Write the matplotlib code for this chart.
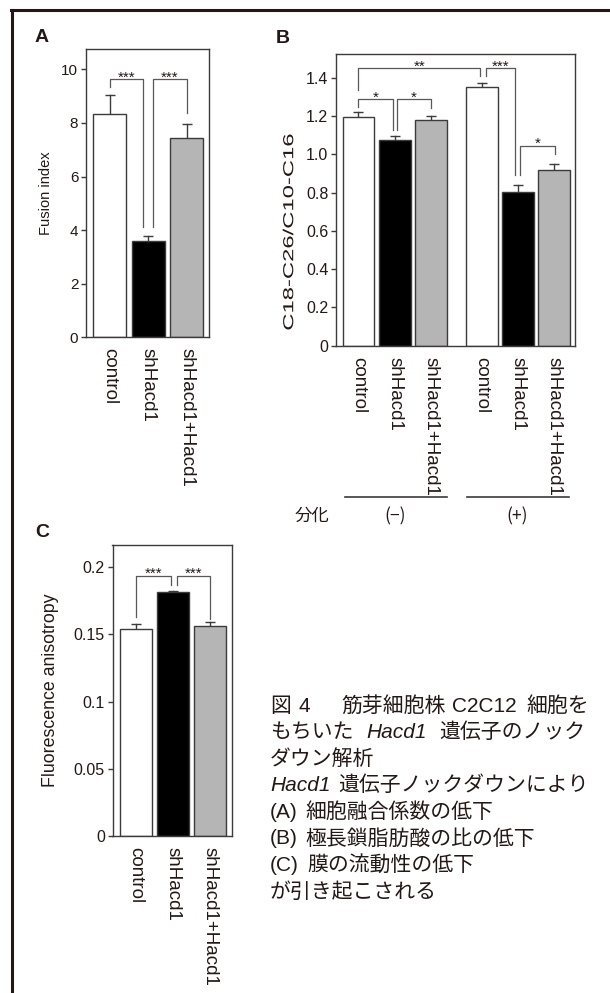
import matplotlib
matplotlib.use("Agg")
import matplotlib.pyplot as plt
import matplotlib.transforms as mtransforms
from matplotlib.lines import Line2D
from matplotlib.textpath import TextPath
from matplotlib.patches import PathPatch
from matplotlib.font_manager import FontProperties

plt.rcParams['font.family'] = ['Liberation Sans', 'DejaVu Sans']

W, H = 610, 993
fig = plt.figure(figsize=(W / 100, H / 100), dpi=100)

# ---- data ----
groups = ["control", "shHacd1", "shHacd1+Hacd1"]

# A: fusion index
fusion_mean = [8.33, 3.59, 7.44]
fusion_top = [9.05, 3.79, 7.97]
fusion_sig = [(0, 0.855, 9.63, 9.33, 4.13, "***"),
              (1.13, 2, 9.63, 4.13, 8.36, "***")]

# B: C18-C26/C10-C16 ratio, differentiation (-) then (+)
ratio_mean = [1.196, 1.073, 1.181, 1.352, 0.801, 0.916]
ratio_top = [1.223, 1.096, 1.200, 1.371, 0.840, 0.948]
ratio_pos = [0, 1, 2, 3.4, 4.4, 5.4]
ratio_sig = [(0, 3.36, 1.449, 1.336, 1.409, "**"),
             (3.51, 4.32, 1.449, 1.409, 0.892, "***"),
             (0, 0.945, 1.287, 1.249, 1.127, "*"),
             (1.06, 1.99, 1.287, 1.127, 1.240, "*"),
             (4.46, 5.43, 1.045, 0.892, 1.002, "*")]
diff_title = "分化"
diff_groups = ["(−)", "(+)"]

# C: fluorescence anisotropy
aniso_mean = [0.1539, 0.1812, 0.1564]
aniso_top = [0.1580, 0.1823, 0.1589]
aniso_sig = [(0, 0.94, 0.1933, 0.1626, 0.1866, "***"),
             (1.10, 2.0, 0.1933, 0.1866, 0.1617, "***")]

caption = [
    [("図", 'j'), 8, ("4", 'l'), 31, ("筋芽細胞株", 'j'), 6, ("C2C12", 'l'), 10, ("細胞を", 'j')],
    [("もちいた", 'j'), 13, ("Hacd1", 'i'), 12, ("遺伝子のノック", 'j')],
    [("ダウン解析", 'j')],
    [("Hacd1", 'i'), 8, ("遺伝子ノックダウンにより", 'j')],
    [("(A)", 'l'), 8, ("細胞融合係数の低下", 'j')],
    [("(B)", 'l'), 8, ("極長鎖脂肪酸の比の低下", 'j')],
    [("(C)", 'l'), 8, ("膜の流動性の低下", 'j')],
    [("が引き起こされる", 'j')],
]

fill = ["white", "black", "#b5b5b6"]
edge = "#3e3a39"
brk = "#595757"
ink = "#231815"
cjk = ['Noto Sans CJK JP', 'DejaVu Sans']


def px_axes(l, r, t, b):
    return fig.add_axes([l / W, 1 - b / H, (r - l) / W, (b - t) / H])


def style_axes(ax, ysize):
    for s in ax.spines.values():
        s.set_color(edge)
        s.set_linewidth(1.0)
    ax.tick_params(axis='y', direction='out', length=3.5, width=1, color=edge,
                   labelsize=ysize, pad=2, colors=ink)
    ax.tick_params(axis='x', length=0, pad=8, labelsize=13.5, colors=ink)


def draw_bars(ax, pos, mean, top, colors, width):
    ax.bar(pos, mean, width=width, color=colors, edgecolor=edge, linewidth=1.0, zorder=2)
    for x, m, t in zip(pos, mean, top):
        ax.plot([x, x], [m, t], color=edge, lw=1.0, zorder=1)
        ax.plot([x], [t], marker='_', markersize=7, mew=1.0, color=edge, zorder=1)


def draw_sig(ax, sig, fs=11):
    for x1, x2, y, y1, y2, lab in sig:
        ax.plot([x1, x1, x2, x2], [y1, y, y, y2], color=brk, lw=0.9, clip_on=False)
        ax.annotate(lab, xy=((x1 + x2) / 2, y), xytext=(0, -1.5),
                    textcoords='offset points', ha='center', va='baseline',
                    fontsize=fs, color=ink)


# ---- panel A ----
axA = px_axes(86, 209, 49, 337.3)
draw_bars(axA, range(3), fusion_mean, fusion_top, fill, 0.85)
draw_sig(axA, fusion_sig)
axA.set_xlim(-0.62, 2.58)
axA.set_ylim(0, 10.76)
axA.set_yticks([0, 2, 4, 6, 8, 10])
axA.set_xticks(range(3))
axA.set_xticklabels(groups, rotation=-90)
style_axes(axA, 11)
axA.set_ylabel("Fusion index", fontsize=10.5, color=ink)
axA.yaxis.set_label_coords(-0.27, 0.5)

# ---- panel B ----
axB = px_axes(336, 575, 54, 345.7)
draw_bars(axB, ratio_pos, ratio_mean, ratio_top, fill * 2, 0.88)
draw_sig(axB, ratio_sig)
axB.set_xlim(-0.62, 5.98)
axB.set_ylim(0, 1.524)
axB.set_yticks([0, 0.2, 0.4, 0.6, 0.8, 1.0, 1.2, 1.4])
axB.set_yticklabels(["0", "0.2", "0.4", "0.6", "0.8", "1.0", "1.2", "1.4"])
axB.set_xticks(ratio_pos)
axB.set_xticklabels(groups * 2, rotation=-90)
style_axes(axB, 11.5)

# y label of B is stretched along its length in the original
tp = TextPath((0, 0), "C18-C26/C10-C16", size=14.5, prop=FontProperties(family='Liberation Sans'))
ext = tp.get_extents()
sx = 195 / ext.width
tr = (mtransforms.Affine2D()
      .translate(-(ext.x0 + ext.width / 2), -(ext.y0 + ext.height / 2))
      .scale(sx, 1.0).rotate_deg(90).translate(288, H - 232))
fig.add_artist(PathPatch(tp, transform=tr, facecolor=ink, edgecolor='none'))

trB = mtransforms.blended_transform_factory(axB.transData, axB.transAxes)
for (xa, xb), lab in zip([(-0.37, 2.44), (3.0, 5.82)], diff_groups):
    axB.add_line(Line2D([xa, xb], [-0.519, -0.519], transform=trB, color=edge,
                        lw=1.2, clip_on=False))
    axB.text((xa + xb) / 2 - 0.02, -0.584, lab, transform=trB, ha='center', va='center',
             fontsize=12.5, color=ink, family=cjk)
axB.text(-1.29, -0.584, diff_title, transform=trB, ha='center', va='center',
         fontsize=12.5, color=ink, family=cjk)

# ---- panel C ----
axC = px_axes(112.5, 232, 545, 836)
draw_bars(axC, range(3), aniso_mean, aniso_top, fill, 0.88)
draw_sig(axC, aniso_sig)
axC.set_xlim(-0.63, 2.59)
axC.set_ylim(0, 0.2164)
axC.set_yticks([0, 0.05, 0.1, 0.15, 0.2])
axC.set_yticklabels(["0", "0.05", "0.1", "0.15", "0.2"])
axC.set_xticks(range(3))
axC.set_xticklabels(groups, rotation=-90)
style_axes(axC, 11.5)
axC.set_ylabel("Fluorescence anisotropy", fontsize=12.8, color=ink)
axC.yaxis.set_label_coords(-0.45, 0.5)

# ---- panel letters & frame ----
for lab, x, yb in [("A", 35, 42), ("B", 276, 43), ("C", 35, 537)]:
    fig.text(x / W, 1 - yb / H, lab, fontsize=14, fontweight='bold', va='baseline', color=ink)

fig.add_artist(Line2D([11 / W, 1], [1 - 9.5 / H] * 2, transform=fig.transFigure,
                      color=ink, lw=2.2))
fig.add_artist(Line2D([12.5 / W] * 2, [0, 1 - 9.5 / H], transform=fig.transFigure,
                      color=ink, lw=2.2))

# ---- caption ----
renderer = fig.canvas.get_renderer()
for i, pieces in enumerate(caption):
    x = 270
    yb = 704 + 26.6 * i + 7.5
    for p in pieces:
        if isinstance(p, (int, float)):
            x += p
            continue
        txt, kind = p
        if kind == 'i':
            t = fig.text(x / W, 1 - yb / H, txt, fontsize=15, style='italic',
                         family=['Liberation Sans'], va='baseline', color=ink)
        elif kind == 'l':
            t = fig.text(x / W, 1 - yb / H, txt, fontsize=15,
                         family=['Liberation Sans'], va='baseline', color=ink)
        else:
            t = fig.text(x / W, 1 - yb / H, txt, fontsize=15,
                         family=cjk, va='baseline', color=ink)
        x += t.get_window_extent(renderer).width

fig.savefig("out.png", dpi=100)
